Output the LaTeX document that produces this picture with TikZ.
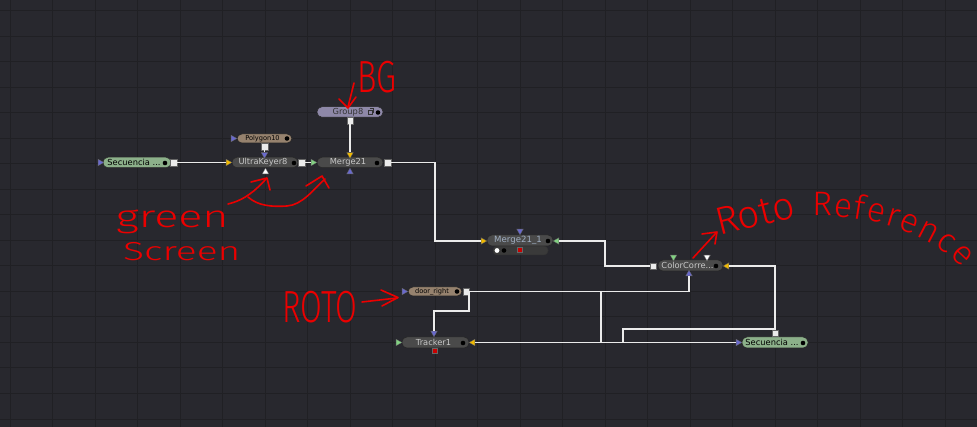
\documentclass[tikz,border=0pt]{standalone}
\usepackage{fontspec}
\newfontfamily\lab{DejaVu Sans}
\newfontfamily\hand{Fira Sans Light}
\usetikzlibrary{shapes.geometric,decorations.text}
\definecolor{bgc}{RGB}{40,40,46}
\definecolor{gridc}{RGB}{32,32,36}
\definecolor{nodegray}{RGB}{74,74,74}
\definecolor{subgray}{RGB}{58,58,58}
\definecolor{seqgreen}{RGB}{140,176,138}
\definecolor{rotobrown}{RGB}{150,130,110}
\definecolor{grouplav}{RGB}{142,136,168}
\definecolor{wire}{RGB}{235,235,235}
\definecolor{pyel}{RGB}{240,185,0}
\definecolor{pgrn}{RGB}{130,210,130}
\definecolor{pblu}{RGB}{105,105,205}
\definecolor{annred}{RGB}{235,0,0}
\definecolor{lightlab}{RGB}{200,200,200}
\definecolor{bluelab}{RGB}{160,175,195}
\definecolor{redport}{RGB}{200,0,0}
\begin{document}
\begin{tikzpicture}[x=1pt,y=-1pt,
  pill/.style={rectangle, rounded corners=5pt, draw=black!85, line width=0.5pt,
    minimum height=10.5pt, inner sep=0pt, text=lightlab, font=\lab\fontsize{8.3}{9}\selectfont},
  smallfont/.style={font=\lab\fontsize{6.6}{7}\selectfont},
  outsq/.style={rectangle, draw=black!60, fill=white!92!black, minimum size=6.5pt, inner sep=0pt, line width=0.3pt},
  redsq/.style={rectangle, draw=black!60, fill=redport, minimum size=5pt, inner sep=0pt, line width=0.3pt},
  tri/.style={regular polygon, regular polygon sides=3, minimum size=7.5pt, inner sep=0pt, draw=black!60, line width=0.3pt},
  tR/.style={tri, shape border rotate=-90},
  tL/.style={tri, shape border rotate=90},
  tD/.style={tri, shape border rotate=180},
  tU/.style={tri, shape border rotate=0},
  wireline/.style={draw=wire, line width=1.3pt},
  hand/.style={draw=annred, line width=1.6pt, line cap=round, line join=round},
  handtext/.style={text=annred, inner sep=0pt, anchor=base west}
]
\useasboundingbox (0,0) rectangle (977,427);
\fill[bgc] (0,0) rectangle (977,427);
\foreach \i in {0,...,22} \draw[gridc, line width=1pt] (10+42.5*\i,0) -- ++(0,427);
\foreach \j in {0,...,16} \draw[gridc, line width=1pt] (0,11+25.5*\j) -- ++(977,0);

% ---------- nodes ----------
\node[pill, fill=seqgreen, minimum width=68pt, text=black] (sec1) at (137,162.5) {Secuencia ...\hspace*{6pt}};
\node[pill, smallfont, fill=rotobrown, minimum width=55pt, minimum height=9pt, text=black] (poly) at (264.5,138.5) {Polygon10\hspace*{4pt}};
\node[pill, fill=nodegray, minimum width=66pt] (uk) at (265,162.5) {UltraKeyer8\hspace*{4pt}};
\node[pill, fill=grouplav, minimum width=66pt, text=black!80] (grp) at (350,112) {Group8\hspace*{4pt}};
\node[pill, fill=nodegray, minimum width=66pt] (m21) at (350,162.5) {Merge21\hspace*{4pt}};
\node[rectangle, rounded corners=4pt, fill=subgray, draw=black!80, line width=0.5pt, minimum width=55pt, minimum height=9pt] (m1sub) at (520.5,250.5) {};
\node[pill, fill=nodegray, minimum width=66pt, minimum height=11pt, text=bluelab, font=\lab\fontsize{8.6}{9}\selectfont] (m1) at (520,240.5) {Merge21\_1\hspace*{4pt}};
\node[pill, fill=nodegray, minimum width=65pt, minimum height=11pt] (cc) at (690.5,265.5) {ColorCorre...\hspace*{6pt}};
\node[pill, smallfont, fill=rotobrown, minimum width=54pt, minimum height=9pt, text=black] (door) at (435,291.5) {door\_right\hspace*{6pt}};
\node[pill, fill=nodegray, minimum width=67pt, minimum height=11pt] (tk) at (435.5,342.5) {Tracker1\hspace*{4pt}};
\node[pill, fill=seqgreen, minimum width=66pt, minimum height=11pt, text=black] (sec2) at (775,342.5) {Secuencia ...\hspace*{6pt}};

% dots on nodes
\foreach \p in {(165,163),(287,138.5),(294,163),(378,112.5),(377,163),(548,241),(716,266),(457,291.5),(463,343),(803,343),(504,250.5)}
  \fill[black] \p circle (2.3pt);
\fill[white] (497,250.5) circle (2.4pt);
\draw[black!80, line width=0.6pt] (368,110) rectangle (372,114.5);
\draw[black!80, line width=0.6pt] (369.5,108.5) -- (373.5,108.5) -- (373.5,113);

% ---------- ports ----------
\node[tR, fill=pblu] (sec1b) at (100,162.5) {};
\node[outsq] (sec1o) at (173.5,162.5) {};
\node[tR, fill=pblu] (polyb) at (233,138.5) {};
\node[outsq] (polyo) at (264.5,146.5) {};
\node[tD, fill=pblu] (ukb) at (264.5,154.5) {};
\node[tU, fill=white] (ukw) at (265.5,172) {};
\node[tR, fill=pyel] (uky) at (228,162.5) {};
\node[outsq] (uko) at (301.5,162.5) {};
\node[outsq] (grpo) at (350,120.5) {};
\node[tR, fill=pgrn] (m21g) at (313,162.5) {};
\node[tD, fill=pyel] (m21y) at (350,154.5) {};
\node[tU, fill=pblu] (m21b) at (350,172) {};
\node[outsq] (m21o) at (387.5,162.5) {};
\node[tR, fill=pyel] (m1y) at (483,241) {};
\node[tL, fill=pgrn] (m1g) at (557,241) {};
\node[tD, fill=pblu] (m1b) at (520,231) {};
\node[redsq] (m1r) at (520,249.5) {};
\node[tD, fill=pgrn] (ccg) at (673.5,257) {};
\node[tD, fill=white] (ccw) at (707,257) {};
\node[tU, fill=pblu] (ccb) at (689,274) {};
\node[tL, fill=pyel] (ccy) at (727,266) {};
\node[outsq] (cco) at (653,266) {};
\node[tR, fill=pblu] (doorb) at (404,291.5) {};
\node[outsq] (dooro) at (466,291.5) {};
\node[tR, fill=pgrn] (tkg) at (398,342.5) {};
\node[tD, fill=pblu] (tkb) at (434,333) {};
\node[tL, fill=pyel] (tky) at (473,342.5) {};
\node[redsq] (tkr) at (434.5,351) {};
\node[tR, fill=pblu] (sec2b) at (738,342.5) {};
\node[outsq] (sec2o) at (775,333) {};

% ---------- wires ----------
\coordinate (bm) at (435,162.5);
\coordinate (bc) at (605,266);
\coordinate (bs) at (623,329);
\coordinate (bd) at (469,311);
\coordinate (bx) at (601,291.5);
\draw[wireline] (sec1o) -- (uky);
\draw[wireline] (uko) -- (m21g);
\draw[wireline] (polyo) -- (ukb);
\draw[wireline] (grpo) -- (m21y);
\draw[wireline] (m21o) -- (bm) |- (m1y);
\draw[wireline] (cco) -- (bc) |- (m1g);
\draw[wireline] (sec2o) |- (ccy);
\draw[wireline] (sec2o.north) |- (bs) |- (tky);
\draw[wireline] (dooro) -| (ccb);
\draw[wireline] (dooro.east) -| (bd) -| (tkb);
\draw[wireline] (dooro) -- (bx) |- (sec2b);

% ---------- annotations ----------
\node[handtext] (bgt) at (357,93) {\hand\fontsize{45}{45}\selectfont\scalebox{0.72}[1]{BG}};
\draw[hand] (354,83) -- (348,107);
\draw[hand] (339,99) -- (348,108) -- (356,97);

\node[handtext] (gt) at (116,228) {\hand\fontsize{31}{31}\selectfont\scalebox{1.45}[1]{green}};
\node[handtext] (st) at (123,261) {\hand\fontsize{26}{26}\selectfont\scalebox{1.5}[1]{Screen}};
\draw[hand] (228,204) .. controls (245,200) and (256,190) .. (266,179);
\draw[hand] (251,182) -- (267,178) -- (270,190);
\draw[hand] (248,197) .. controls (258,206) and (272,207) .. (287,206) .. controls (302,205) and (313,190) .. (325,179);
\draw[hand] (306,186) -- (322,176) -- (329,188);

\node[handtext] (rt) at (282,323) {\hand\fontsize{45}{45}\selectfont\scalebox{0.7}[1]{ROTO}};
\draw[hand] (362,302) -- (397,298);
\draw[hand] (381,290) -- (398,297.5) -- (382,306);

\draw[hand] (693,258) -- (716,233);
\draw[hand] (702,234) -- (717,232) -- (715,244);
\node[handtext, rotate=14] (rr1) at (719,236) {\hand\fontsize{39}{39}\selectfont Roto};
\path[decorate, decoration={text along path, text={|\hand\fontsize{34}{34}\selectfont|Reference}, text color=annred, text align={fit to path}}]
  (812,216) .. controls (862,214) and (928,230) .. (962,268);
\end{tikzpicture}
\end{document}
